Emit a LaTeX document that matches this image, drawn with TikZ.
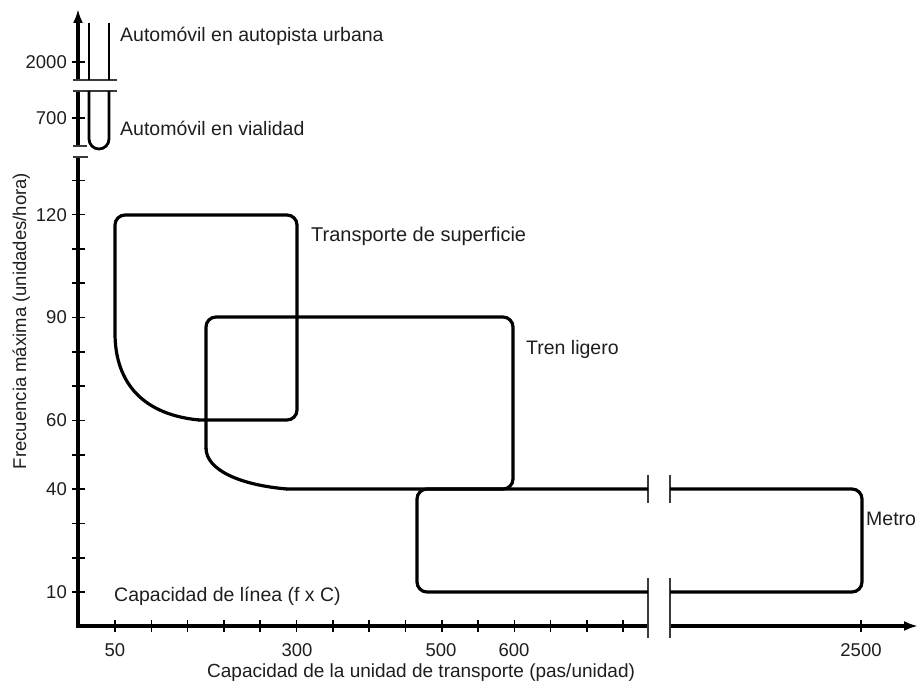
\documentclass[tikz,border=0pt]{standalone}
\usepackage{fontspec}
\setmainfont{Liberation Sans}
\usetikzlibrary{arrows.meta}
\definecolor{txt}{HTML}{1E1E1E}
\definecolor{brk}{HTML}{3A3A3A}
\begin{document}
\begin{tikzpicture}[x=1pt,y=-1pt,
  lbl/.style={inner sep=0pt, text=txt, font=\fontsize{19.5}{23}\selectfont},
  num/.style={inner sep=0pt, text=txt, font=\fontsize{18.5}{22}\selectfont},
  axisline/.style={line width=3.2pt, black},
  boxline/.style={line width=3.2pt, black, rounded corners=10pt},
  carline/.style={line width=2.8pt, black},
  tickline/.style={line width=1.6pt, black},
  breakline/.style={line width=1.8pt, brk},
  tip/.style={-{Latex[length=14pt,width=10pt]}}
]
\useasboundingbox (0,0) rectangle (918,684);

% ---- coordinates of axes
\coordinate (origin) at (78,626);
\coordinate (ybreaklow) at (78,157);
\coordinate (ybreakmidlow) at (78,146);
\coordinate (ybreakmidup) at (78,91);
\coordinate (ybreakup) at (78,80);
\coordinate (ytop) at (78,9);
\coordinate (xbreakL) at (648,626);
\coordinate (xbreakR) at (670,626);
\coordinate (xend) at (918,626);

% ---- y axis (three segments)
\draw[axisline] ([yshift=-1.6pt]origin) -- (ybreaklow);
\draw[axisline] (ybreakmidlow) -- (ybreakmidup);
\draw[axisline,tip] (ybreakup) -- (ytop);

% ---- x axis (two segments)
\draw[axisline] ([xshift=-1.6pt]origin) -- (xbreakL);
\draw[axisline,tip] (xbreakR) -- (xend);

% ---- y ticks
\foreach \k in {0,...,12} {
  \draw[tickline] (72,{592-34.3*\k}) -- (85,{592-34.3*\k});
}
\draw[tickline] (72,62) -- (85,62);
\draw[tickline] (72,118) -- (85,118);

% ---- x ticks
\foreach \k in {0,...,14} {
  \draw[tickline] ({115+36.3*\k},620) -- ({115+36.3*\k},632);
}
\draw[tickline] (861,620) -- (861,632);

% ---- y axis breaks
\draw[breakline] (73,80) -- (117,80);
\draw[breakline] (73,91) -- (117,91);
\draw[breakline] (73,146) -- (87,146);
\draw[breakline] (73,157) -- (88,157);

% ---- x axis breaks
\draw[breakline] (648,475) -- (648,503);
\draw[breakline] (670,475) -- (670,503);
\draw[breakline] (648,578) -- (648,638);
\draw[breakline] (670,578) -- (670,638);

% ---- automobile lines
\draw[carline] (89,23) -- (89,80);
\draw[carline] (109,23) -- (109,80);
\draw[carline] (89,91) -- (89,139) arc[start angle=180, end angle=360, radius=10pt] -- (109,91);

% ---- Transporte de superficie
\draw[boxline] (115,333) -- (115,215) -- (297,215) -- (297,420) -- (198,420);
\draw[line width=3.2pt] (115,333) .. controls (115,378) and (138,414) .. (199,420);

% ---- Tren ligero
\draw[boxline] (206,449) -- (206,317) -- (513,317) -- (513,489) -- (286,489);
\draw[line width=3.2pt] (206,448) .. controls (206,470) and (240,485) .. (287,489);

% ---- Metro
\draw[boxline] (648,489) -- (417,489) -- (417,592) -- (648,592);
\draw[boxline] (670,489) -- (862,489) -- (862,592) -- (670,592);

% ---- labels
\node[lbl, anchor=base west] (autourb) at (120,42) {Automóvil en autopista urbana};
\node[lbl, anchor=base west] (autovia) at (120,136) {Automóvil en vialidad};
\node[num, anchor=base east] (y2000) at (67,68.6) {2000};
\node[num, anchor=base east] (y700) at (67,124.6) {700};
\node[num, anchor=base east] (y120) at (67,221.6) {120};
\node[num, anchor=base east] (y90) at (67,323.6) {90};
\node[num, anchor=base east] (y60) at (67,426.6) {60};
\node[num, anchor=base east] (y40) at (67,495.6) {40};
\node[num, anchor=base east] (y10) at (67,598.6) {10};

\node[num, anchor=base] (x50) at (115,656) {50};
\node[num, anchor=base] (x300) at (297,656) {300};
\node[num, anchor=base] (x500) at (441,656) {500};
\node[num, anchor=base] (x600) at (514,656) {600};
\node[num, anchor=base] (x2500) at (861,656) {2500};

\node[lbl, anchor=base west, font=\fontsize{20}{24}\selectfont] (sup) at (311,242) {Transporte de superficie};
\node[lbl, anchor=base west] (tren) at (526,355) {Tren ligero};
\node[lbl, anchor=base west] (metro) at (866,525) {Metro};
\node[lbl, anchor=base west] (capl) at (114,601) {Capacidad de línea (f x C)};
\node[lbl, anchor=base west, font=\fontsize{19}{23}\selectfont] (xlab) at (207,677) {Capacidad de la unidad de transporte (pas/unidad)};
\node[num, anchor=base, rotate=90] (ylab) at (26,321) {Frecuencia máxima (unidades/hora)};
\end{tikzpicture}
\end{document}
